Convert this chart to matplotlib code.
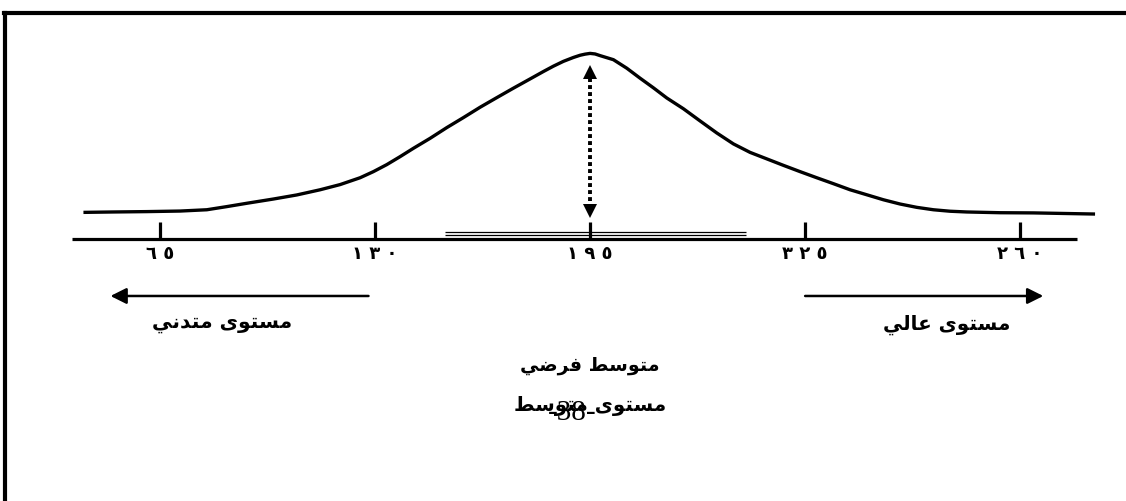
"""
Normal curve sketch: levels (low / mean / high) along a score axis.
"""
import matplotlib
matplotlib.use("Agg")
import matplotlib.pyplot as plt
from matplotlib.lines import Line2D

# Score axis: tick positions and the labels printed under them
tick_pos = [65, 130, 195, 260, 325]
tick_labels = ['٦٥', '١٣٠', '١٩٥', '٣٢٥', '٢٦٠']

# Curve (score, relative height)
curve_x = [42.33, 50.88, 60.98, 71.05, 79.12, 85.16, 91.21, 99.25, 106.32,
           113.37, 119.41, 125.46, 129.48, 133.53, 137.55, 141.57, 146.62,
           151.67, 156.69, 161.74, 166.79, 171.80, 176.85, 180.87, 183.90,
           186.92, 189.94, 191.97, 193.48, 194.99, 196.50,
           198.01, 202.04, 206.08, 210.10, 214.13, 218.18, 223.19, 228.24,
           233.29, 238.31, 243.36, 248.40, 253.43, 258.47, 263.52, 268.54,
           273.59, 278.64, 283.66, 288.70, 293.75, 298.77, 303.82, 308.87,
           318.93, 329.00, 347.14]
curve_y = [0.144, 0.146, 0.148, 0.151, 0.158, 0.175, 0.193, 0.216, 0.238,
           0.266, 0.294, 0.331, 0.364, 0.402, 0.445, 0.490, 0.544,
           0.602, 0.656, 0.712, 0.764, 0.815, 0.865, 0.905, 0.934,
           0.960, 0.981, 0.993, 0.999, 1.003, 1.000,
           0.991, 0.969, 0.923, 0.869, 0.817, 0.762, 0.704, 0.638,
           0.573, 0.514, 0.468, 0.433, 0.398, 0.364, 0.331, 0.299,
           0.266, 0.239, 0.212, 0.189, 0.171, 0.158, 0.150, 0.146,
           0.142, 0.141, 0.135]

mean_value = 195
band = [151, 242]   # double line around the mean

label_low = 'مستوى متدني'
label_high = 'مستوى عالي'
label_mean = 'متوسط فرضي'
label_mid = 'مستوى متوسط'
page_no = '-38-'

# --- minimal Arabic shaping (presentation forms + right-to-left order) ---
FORMS = {
    'ا': ('\uFE8D', '\uFE8E', None, None),
    'ت': ('\uFE95', '\uFE96', '\uFE97', '\uFE98'),
    'د': ('\uFEA9', '\uFEAA', None, None),
    'ر': ('\uFEAD', '\uFEAE', None, None),
    'س': ('\uFEB1', '\uFEB2', '\uFEB3', '\uFEB4'),
    'ض': ('\uFEBD', '\uFEBE', '\uFEBF', '\uFEC0'),
    'ط': ('\uFEC1', '\uFEC2', '\uFEC3', '\uFEC4'),
    'ع': ('\uFEC9', '\uFECA', '\uFECB', '\uFECC'),
    'ف': ('\uFED1', '\uFED2', '\uFED3', '\uFED4'),
    'ل': ('\uFEDD', '\uFEDE', '\uFEDF', '\uFEE0'),
    'م': ('\uFEE1', '\uFEE2', '\uFEE3', '\uFEE4'),
    'ن': ('\uFEE5', '\uFEE6', '\uFEE7', '\uFEE8'),
    'و': ('\uFEED', '\uFEEE', None, None),
    'ى': ('\uFEEF', '\uFEF0', None, None),
    'ي': ('\uFEF1', '\uFEF2', '\uFEF3', '\uFEF4'),
}


def shape(text):
    out = []
    for i, ch in enumerate(text):
        forms = FORMS.get(ch)
        if forms is None:
            out.append(ch)
            continue
        prev = text[i - 1] if i > 0 else ''
        nxt = text[i + 1] if i + 1 < len(text) else ''
        join_prev = prev in FORMS and FORMS[prev][2] is not None
        join_next = forms[2] is not None and nxt in FORMS
        if join_prev and join_next:
            out.append(forms[3])
        elif join_prev:
            out.append(forms[1])
        elif join_next:
            out.append(forms[2])
        else:
            out.append(forms[0])
    return ''.join(reversed(out))


fig = plt.figure(figsize=(11.26, 5.02), dpi=100)
ax = fig.add_axes([0, 0, 1, 1])
ax.set_xlim(16.6, 357.0)
ax.set_ylim(-1.416, 1.297)
ax.axis('off')

# page frame (top and left edges)
fig.add_artist(Line2D([0.0036, 1.0], [0.972, 0.972], transform=fig.transFigure,
                      color='black', lw=3))
fig.add_artist(Line2D([0.0044, 0.0044], [0.0, 0.972], transform=fig.transFigure,
                      color='black', lw=3))
fig.text(0.913, 1.02, 'ع', ha='center', va='center', fontsize=13,
         fontweight='bold')

# curve
ax.plot(curve_x, curve_y, color='black', lw=2.4, solid_joinstyle='round')

# axis line, ticks, labels
ax.hlines(0, 38.4, 342.2, color='black', lw=2.3)
ax.vlines(tick_pos, 0, 0.092, color='black', lw=2.3)
for x, lab in zip(tick_pos, tick_labels):
    ax.text(x, -0.075, ' '.join(lab), ha='center', va='center',
            fontsize=13, fontweight='bold')

# double line around the mean
ax.hlines([0.021, 0.040], band[0], band[1], color='black', lw=0.9)

# dotted double arrow at the mean
ax.plot([mean_value, mean_value], [0.17, 0.89], color='black', lw=2.8,
        linestyle=(0, (1, 0.8)))
ax.plot(mean_value, 0.905, marker='^', color='black', ms=10, mew=0)
ax.plot(mean_value, 0.15, marker='v', color='black', ms=10, mew=0)

# level arrows
arrow = dict(arrowstyle='-|>', color='black', lw=1.8, mutation_scale=24,
             shrinkA=0, shrinkB=0)
ax.annotate('', xy=(50, -0.308), xytext=(tick_pos[1] - 2, -0.308),
            arrowprops=arrow)
ax.annotate('', xy=(332, -0.308), xytext=(tick_pos[3], -0.308),
            arrowprops=arrow)

ax.text(83.7, -0.45, shape(label_low), ha='center', va='center',
        fontsize=14.5, fontweight='bold')
ax.text(302.9, -0.46, shape(label_high), ha='center', va='center',
        fontsize=14.3, fontweight='bold')
ax.text(mean_value, -0.68, shape(label_mean), ha='center', va='center',
        fontsize=13.7, fontweight='bold')
ax.text(mean_value, -0.895, shape(label_mid), ha='center', va='center',
        fontsize=14.2, fontweight='bold')
ax.text(189.5, -0.935, page_no, ha='center', va='center', fontsize=21,
        family='Liberation Serif')

fig.savefig('out.png', dpi=100, facecolor='white')
